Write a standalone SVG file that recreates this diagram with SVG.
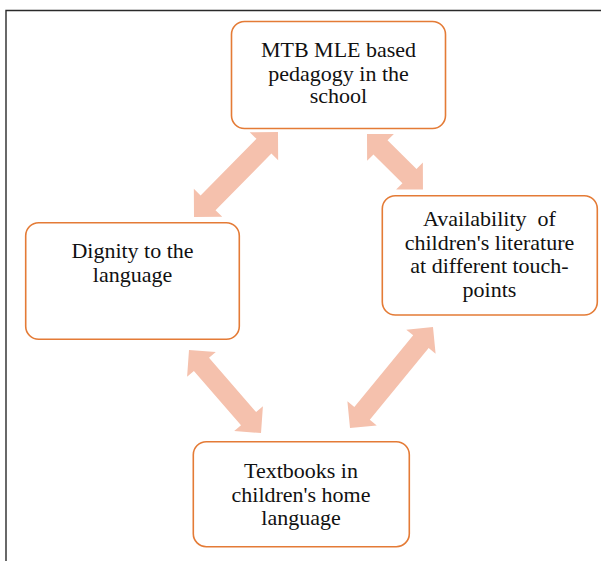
<svg xmlns="http://www.w3.org/2000/svg" width="601" height="561" viewBox="0 0 601 561">
<rect width="601" height="561" fill="#ffffff"/>
<path d="M6,561 L6,10.5 L601,10.5" fill="none" stroke="#2a2a2a" stroke-width="1.4"/>
<g id="connectors" fill="#F5C1AD" stroke="none">
<path transform="translate(194,217) rotate(-45.34)" d="M0,0 L20,-20 L20,-10.5 L99.5,-10.5 L99.5,-20 L119.5,0 L99.5,20 L99.5,10.5 L20,10.5 L20,20 Z"/>
<path transform="translate(367,134) rotate(44.74)" d="M0,0 L19,-19 L19,-10 L59.8,-10 L59.8,-19 L78.8,0 L59.8,19 L59.8,10 L19,10 L19,19 Z"/>
<path transform="translate(350,428) rotate(-50.58)" d="M0,0 L19,-19 L19,-10 L111.7,-10 L111.7,-19 L130.7,0 L111.7,19 L111.7,10 L19,10 L19,19 Z"/>
<path transform="translate(189,350) rotate(49.06)" d="M0,0 L19,-19 L19,-10 L90.9,-10 L90.9,-19 L109.9,0 L90.9,19 L90.9,10 L19,10 L19,19 Z"/>
</g>
<g id="node-top">
<rect x="231.5" y="21.5" width="214" height="107" rx="13" fill="#ffffff" stroke="#E47B36" stroke-width="1.6"/>
<text font-family="Liberation Serif" font-size="22" fill="#111111" text-anchor="middle" x="338.5" y="56.7">MTB MLE based</text>
<text font-family="Liberation Serif" font-size="22" fill="#111111" text-anchor="middle" x="338.5" y="80.5">pedagogy in the</text>
<text font-family="Liberation Serif" font-size="22" fill="#111111" text-anchor="middle" x="338.5" y="103.3">school</text>
</g>
<g id="node-left">
<rect x="25.7" y="222.7" width="213.6" height="116.6" rx="13" fill="#ffffff" stroke="#E47B36" stroke-width="1.6"/>
<text font-family="Liberation Serif" font-size="22" fill="#111111" text-anchor="middle" x="132.5" y="258.3">Dignity to the</text>
<text font-family="Liberation Serif" font-size="22" fill="#111111" text-anchor="middle" x="132.5" y="282.3">language</text>
</g>
<g id="node-right">
<rect x="382.3" y="195.7" width="215" height="119.3" rx="13" fill="#ffffff" stroke="#E47B36" stroke-width="1.6"/>
<text font-family="Liberation Serif" font-size="22" fill="#111111" text-anchor="middle" x="489.5" y="226" xml:space="preserve">Availability  of</text>
<text font-family="Liberation Serif" font-size="22" fill="#111111" text-anchor="middle" x="489.5" y="250">children's literature</text>
<text font-family="Liberation Serif" font-size="22" fill="#111111" text-anchor="middle" x="489.5" y="273.3">at different touch-</text>
<text font-family="Liberation Serif" font-size="22" fill="#111111" text-anchor="middle" x="489.5" y="296.7">points</text>
</g>
<g id="node-bottom">
<rect x="193.3" y="441.7" width="216" height="105" rx="13" fill="#ffffff" stroke="#E47B36" stroke-width="1.6"/>
<text font-family="Liberation Serif" font-size="22" fill="#111111" text-anchor="middle" x="301" y="477.7">Textbooks in</text>
<text font-family="Liberation Serif" font-size="22" fill="#111111" text-anchor="middle" x="301" y="501.7">children's home</text>
<text font-family="Liberation Serif" font-size="22" fill="#111111" text-anchor="middle" x="301" y="525">language</text>
</g>
</svg>
